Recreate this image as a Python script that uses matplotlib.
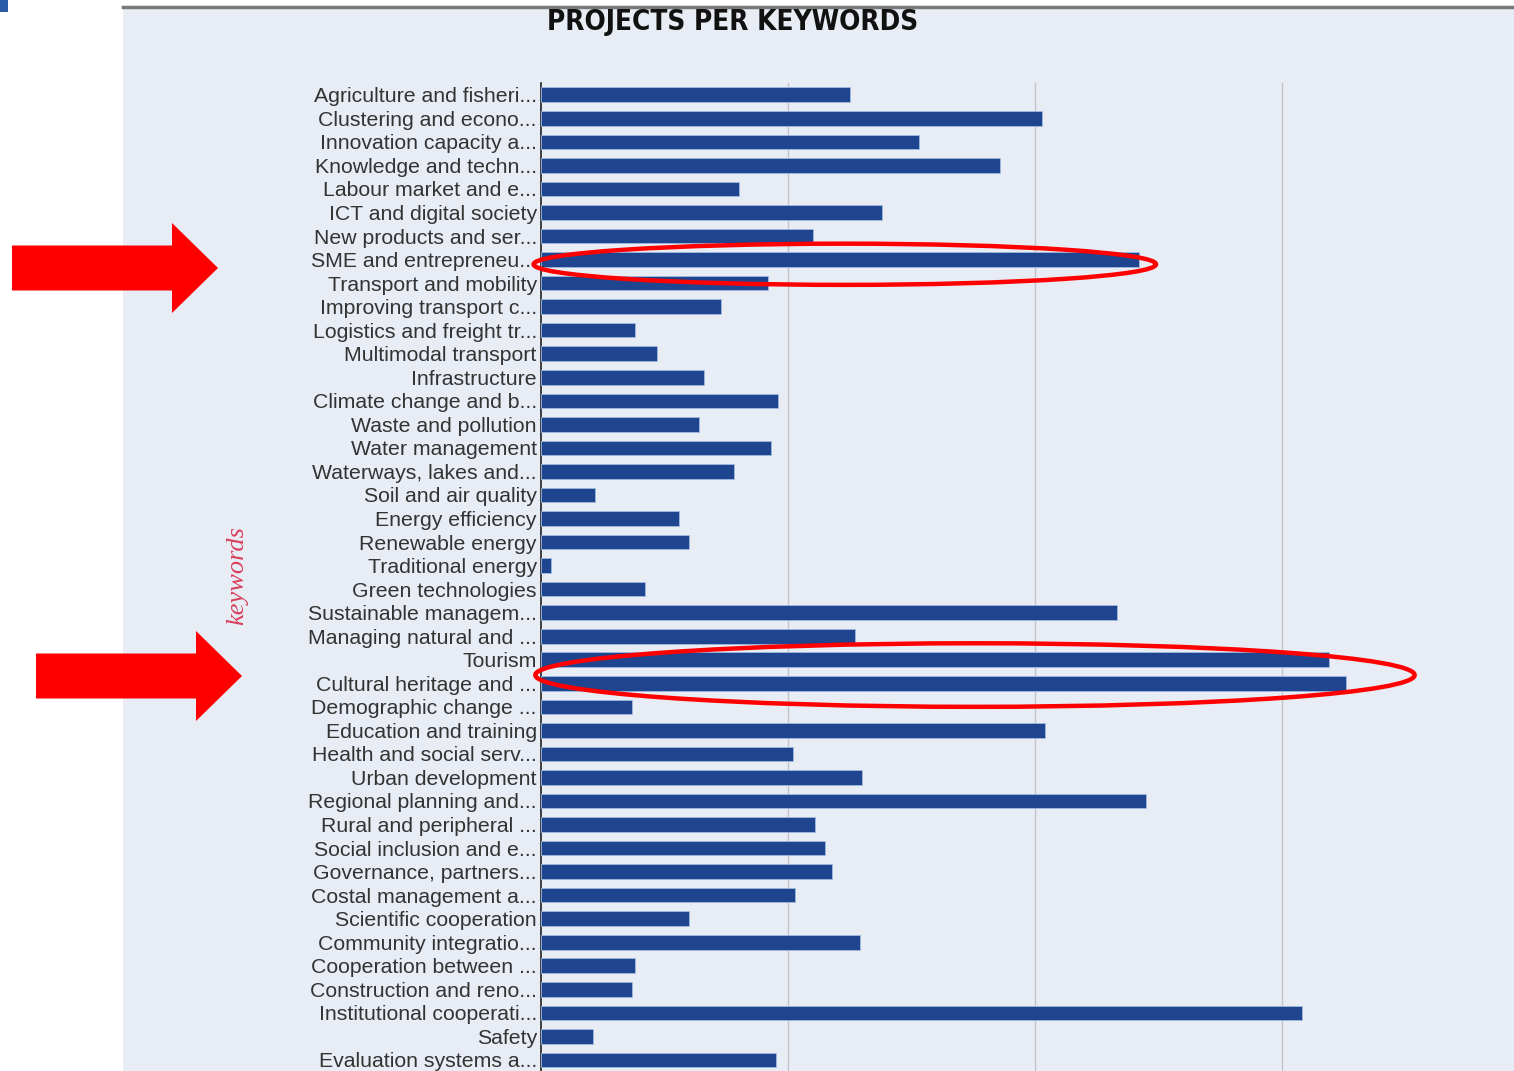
"""Horizontal bar chart: projects per keyword, with highlight annotations."""

import matplotlib

matplotlib.use("Agg")

import matplotlib.pyplot as plt
from matplotlib.patches import Ellipse, FancyArrow, Rectangle

FIG_W_PX, FIG_H_PX = 1514, 1071
DPI = 100

KEYWORDS = [
    "Agriculture and fisheri...",
    "Clustering and econo...",
    "Innovation capacity a...",
    "Knowledge and techn...",
    "Labour market and e...",
    "ICT and digital society",
    "New products and ser...",
    "SME and entrepreneu...",
    "Transport and mobility",
    "Improving transport c...",
    "Logistics and freight tr...",
    "Multimodal transport",
    "Infrastructure",
    "Climate change and b...",
    "Waste and pollution",
    "Water management",
    "Waterways, lakes and...",
    "Soil and air quality",
    "Energy efficiency",
    "Renewable energy",
    "Traditional energy",
    "Green technologies",
    "Sustainable managem...",
    "Managing natural and ...",
    "Tourism",
    "Cultural heritage and ...",
    "Demographic change ...",
    "Education and training",
    "Health and social serv...",
    "Urban development",
    "Regional planning and...",
    "Rural and peripheral ...",
    "Social inclusion and e...",
    "Governance, partners...",
    "Costal management a...",
    "Scientific cooperation",
    "Community integratio...",
    "Cooperation between ...",
    "Construction and reno...",
    "Institutional cooperati...",
    "Safety",
    "Evaluation systems a...",
]

PROJECTS = [
    12.5, 20.3, 15.3, 18.6, 8.0, 13.8, 11.0, 24.2, 9.2, 7.3,
    3.8, 4.7, 6.6, 9.6, 6.4, 9.3, 7.8, 2.2, 5.6, 6.0,
    0.4, 4.2, 23.3, 12.7, 31.9, 32.6, 3.7, 20.4, 10.2, 13.0,
    24.5, 11.1, 11.5, 11.8, 10.3, 6.0, 12.9, 3.8, 3.7, 30.8,
    2.1, 9.5,
]

GRID_TICKS = [10, 20, 30]
HIGHLIGHT_ROWS = [7.2, 24.65]

PANEL_COLOR = "#e8ecf4"
BAR_COLOR = "#1f4490"
RED = "#ff0000"


def px(x, y):
    """Figure fraction from pixel coordinates (origin top-left)."""
    return x / FIG_W_PX, 1 - y / FIG_H_PX


fig = plt.figure(figsize=(FIG_W_PX / DPI, FIG_H_PX / DPI), dpi=DPI)
fig.patch.set_facecolor("white")

# slide panel behind the chart
panel_x, panel_top = px(123, 7)
fig.patches.append(
    Rectangle((panel_x, 0), 1 - panel_x, panel_top, transform=fig.transFigure,
              facecolor=PANEL_COLOR, edgecolor="none", zorder=-5)
)
fig.add_artist(plt.Line2D([panel_x, 1], [panel_top, panel_top], transform=fig.transFigure,
                          color="#7a7a7a", lw=2.5, zorder=1))
# bit of the slide logo in the corner
fig.patches.append(
    Rectangle(px(0, 12), 8 / FIG_W_PX, 12 / FIG_H_PX, transform=fig.transFigure,
              facecolor="#2a5ca8", edgecolor="none", zorder=1)
)

left, top = px(541, 83)
right, _ = px(1514, 0)
ax = fig.add_axes([left, 0, right - left, top])
ax.set_zorder(2)
ax.patch.set_alpha(0)

rows = list(range(len(KEYWORDS)))
ax.barh(rows, PROJECTS, height=0.62, color=BAR_COLOR, edgecolor="#9fbbe0",
        linewidth=0.6, zorder=3)

ax.set_xlim(0, (1514 - 541) / 24.7)
ax.set_ylim(41.47, -0.5)
ax.set_yticks(rows)
ax.set_yticklabels(KEYWORDS, fontsize=15.3, color="#333333", family="Liberation Sans")
ax.tick_params(axis="y", length=0, pad=3)
ax.set_xticks(GRID_TICKS)
ax.tick_params(axis="x", length=0, labelbottom=False)
ax.grid(axis="x", color="#c4c4c8", lw=1.0, zorder=1)
for side in ("top", "right", "bottom"):
    ax.spines[side].set_visible(False)
ax.spines["left"].set_color("#222222")
ax.spines["left"].set_linewidth(1.2)

fig.text(*px(733, 22), "PROJECTS PER KEYWORDS", ha="center", va="center",
         fontsize=20, fontweight="heavy", family="DejaVu Sans",
         fontstretch="condensed", color="#111111", zorder=3)
fig.text(*px(237, 576), "keywords", ha="center", va="center", rotation=90,
         fontsize=19, style="italic", family="Liberation Serif", color="#d8405c",
         zorder=3)

# red ellipses around the highlighted bars
ax.add_patch(Ellipse((12.3, HIGHLIGHT_ROWS[0]), 25.2, 1.75, fill=False,
                     edgecolor=RED, lw=3.2, zorder=5, clip_on=False))
ax.add_patch(Ellipse((17.57, HIGHLIGHT_ROWS[1]), 35.6, 2.7, fill=False,
                     edgecolor=RED, lw=3.2, zorder=5, clip_on=False))

# red block arrows pointing at them
for x0, yc in ((12, 268), (36, 676)):
    fx, fy = px(x0, yc)
    fig.add_artist(FancyArrow(fx, fy, 206 / FIG_W_PX, 0, width=45 / FIG_H_PX,
                              head_width=90 / FIG_H_PX, head_length=46 / FIG_W_PX,
                              length_includes_head=True, transform=fig.transFigure,
                              color=RED, lw=0, zorder=6))

fig.savefig("out.png", dpi=DPI, facecolor=fig.get_facecolor())
